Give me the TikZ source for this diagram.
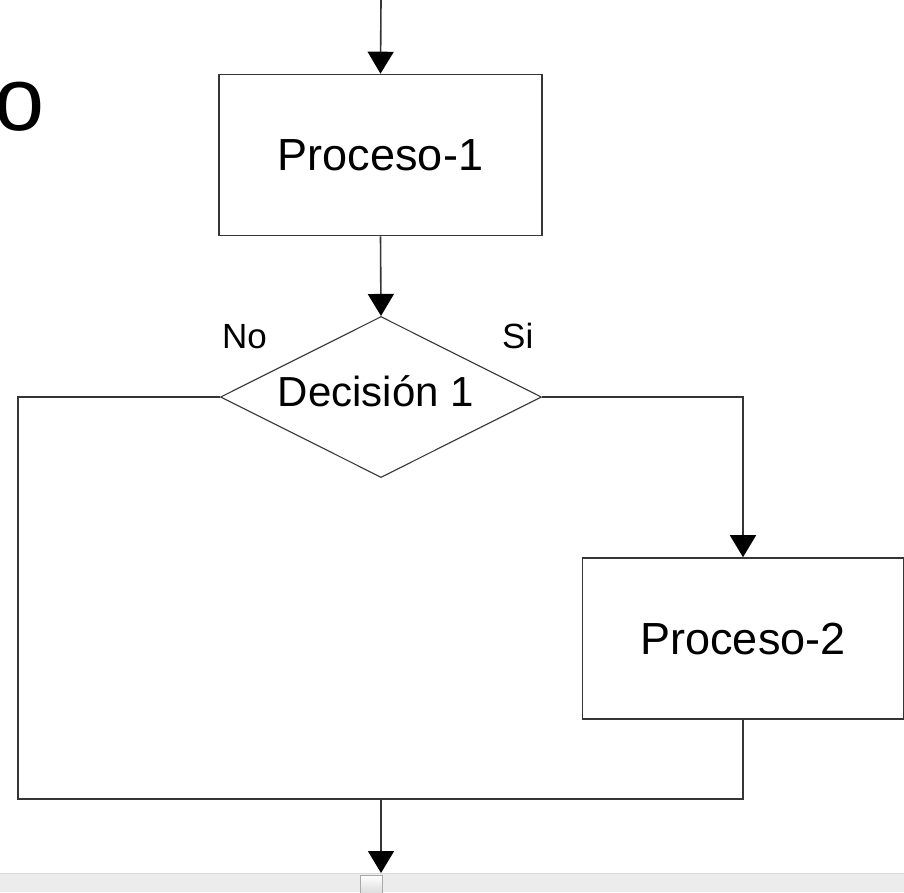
\documentclass[tikz,border=0pt]{standalone}
\usepackage{fontspec}
\setmainfont{Liberation Sans}
\usetikzlibrary{arrows.meta,shapes.geometric}
\definecolor{edge}{HTML}{353535}
\definecolor{barfill}{HTML}{ECECEC}
\definecolor{barline}{HTML}{D9D9D9}
\definecolor{thumbline}{HTML}{A9A9A9}
\tikzset{
  conn/.style={draw=edge, line width=1.6pt},
  arr/.style={conn, -{Triangle[width=26pt,length=22pt,color=black]}},
  procbox/.style={draw=edge, line width=1.6pt, rectangle, inner sep=0pt,
    font=\fontsize{45}{50}\selectfont},
  decbox/.style={draw=edge, line width=1.1pt, diamond, inner sep=0pt,
    minimum width=321pt, minimum height=161pt},
  lbl/.style={inner sep=0pt, anchor=base west},
}
\begin{document}
\begin{tikzpicture}[x=1pt, y=-1pt]
  \useasboundingbox (0,0) rectangle (904,892);

  % partial heading letter at the top left
  \node[lbl, font=\fontsize{90}{100}\selectfont] (head) at (-6,130) {o};

  % flow elements
  \node[procbox, minimum width=323pt, minimum height=161pt] (p1) at (380.5,155) {Proceso-1};
  \node[decbox] (dec) at (381,397) {};
  \node[inner sep=0pt, anchor=base, font=\fontsize{42}{46}\selectfont] (dtxt) at (376,406) {Decisión 1};
  \node[procbox, minimum width=321pt, minimum height=161pt] (p2) at (743,638.5) {Proceso-2};

  \node[lbl, font=\fontsize{35}{40}\selectfont] (no) at (222,348) {No};
  \node[lbl, font=\fontsize{35}{40}\selectfont] (si) at (502,348) {Si};

  % connector corners and free ends
  \coordinate (start) at (381,0);
  \coordinate (lc) at (18,397);
  \coordinate (blc) at (18,799);
  \coordinate (brc) at (743,799);
  \coordinate (join) at (381,799);
  \coordinate (finish) at (381,873);

  % connectors
  \draw[arr] (start) -- (p1.north);
  \draw[arr] (p1.south) -- (dec.north);
  \draw[arr] (dec.east) -| (p2.north);
  \draw[conn] (dec.west) -- (lc) -- (blc) -- (brc) -- (p2.south);
  \draw[arr] (join) -- (finish);

  % scroll bar strip along the bottom edge
  \fill[barfill] (0,873) rectangle (904,892);
  \draw[barline, line width=1pt] (0,873.5) -- (904,873.5);
  \node[draw=thumbline, line width=1pt, rectangle, inner sep=0pt,
        minimum width=22pt, minimum height=20pt, anchor=north west,
        top color=white, bottom color=barline] (thumb) at (359.5,874.5) {};
\end{tikzpicture}
\end{document}
